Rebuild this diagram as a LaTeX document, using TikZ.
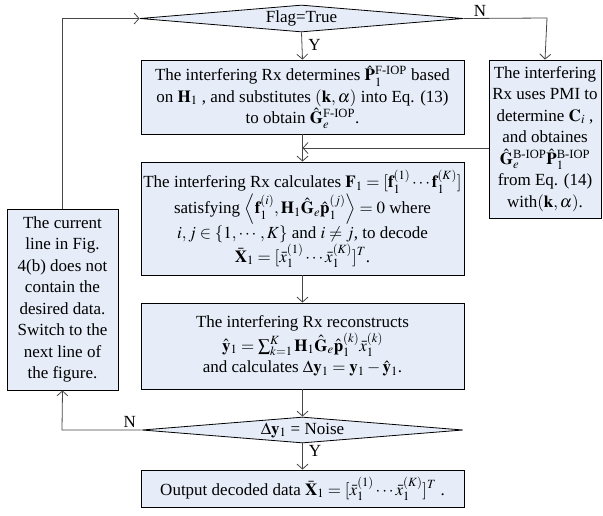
\documentclass[tikz,border=0pt]{standalone}
\usepackage{amsmath}
\usepackage{mathptmx}
\usepackage{fontspec}
\setmainfont{Liberation Serif}
\usepackage{xcolor}
\usetikzlibrary{positioning}
\usetikzlibrary{shapes.geometric}
\usetikzlibrary{arrows.meta}
\definecolor{boxblue}{RGB}{230,237,248}
\definecolor{linegray}{RGB}{70,70,70}
\newcommand\colx{302.5}
\newcommand\boxw{323}
\newcommand\leftx{62}
\newcommand\rightx{547}
\tikzset{
    flowbox/.style = {draw = black, fill = boxblue, line width = 0.8pt, align = center,
        inner sep = 1pt, font = \fontsize{17}{21.5}\selectfont},
    decide/.style = {diamond, draw = black, fill = boxblue, line width = 0.8pt, aspect = 12,
        inner sep = 0pt, font = \fontsize{17}{21}\selectfont},
    flowline/.style = {draw = linegray, line width = 0.8pt, -{Straight Barb[length=5pt,width=11pt]}},
    branch/.style = {font = \fontsize{17}{21}\selectfont, inner sep = 2pt},
}

\begin{document}
\begin{tikzpicture}[x=1pt,y=-1pt]
         \useasboundingbox (0,0) rectangle (603,515);
         % --- Decisions
         \node [decide, minimum width=\boxw pt, minimum height=27pt] (flag) at (301.5,18.5) {Flag=True};
         \node [decide, minimum width=321pt, minimum height=26pt] (noise) at (\colx,430) {$\Delta\mathbf{y}_1$ = Noise};
         % --- Main column
         \node [flowbox, minimum width=\boxw pt, minimum height=74pt] (fiop) at (\colx,97)
               {The interfering Rx determines $\hat{\mathbf{P}}_1^{\text{F-IOP}}$ based\\
                on $\mathbf{H}_1$ , and substitutes $(\mathbf{k},\alpha)$ into Eq. (13)\\
                to obtain $\hat{\mathbf{G}}_e^{\text{F-IOP}}$.};
         \node [flowbox, minimum width=\boxw pt, minimum height=113pt] (calcF) at (\colx,218.5)
               {The interfering Rx calculates $\mathbf{F}_1=[\mathbf{f}_1^{(1)}\cdots\mathbf{f}_1^{(K)}]$\\
                satisfying $\left\langle \mathbf{f}_1^{(i)},\mathbf{H}_1\hat{\mathbf{G}}_e\hat{\mathbf{p}}_1^{(j)}\right\rangle=0$ where\\
                $i,j\in\{1,\cdots,K\}$ and $i\neq j$, to decode\\
                $\bar{\mathbf{X}}_1=[\bar{x}_1^{(1)}\cdots\bar{x}_1^{(K)}]^T$.};
         \node [flowbox, minimum width=\boxw pt, minimum height=86pt] (recon) at (\colx,346)
               {The interfering Rx reconstructs\\
                $\hat{\mathbf{y}}_1=\sum_{k=1}^{K}\mathbf{H}_1\hat{\mathbf{G}}_e\hat{\mathbf{p}}_1^{(k)}\bar{x}_1^{(k)}$\\
                and calculates $\Delta\mathbf{y}_1=\mathbf{y}_1-\hat{\mathbf{y}}_1$.};
         \node [flowbox, minimum width=\boxw pt, minimum height=37pt] (output) at (\colx,488.5)
               {Output decoded data $\bar{\mathbf{X}}_1=[\bar{x}_1^{(1)}\cdots\bar{x}_1^{(K)}]^T$ .};
         % --- Side boxes
         \node [flowbox, minimum width=112pt, minimum height=158pt] (biop) at (545,139)
               {The interfering\\ Rx uses PMI to\\ determine $\mathbf{C}_i$ ,\\ and obtaines\\
                $\hat{\mathbf{G}}_e^{\text{B-IOP}}\hat{\mathbf{P}}_1^{\text{B-IOP}}$\\ from Eq. (14)\\ with$(\mathbf{k},\alpha)$.};
         \node [flowbox, minimum width=111pt, minimum height=181pt] (nextline) at (62.5,299.5)
               {The current\\ line in Fig.\\ 4(b) does not\\ contain the\\ desired data.\\
                Switch to the\\ next line of\\ the figure.};
         % --- Joins
         \coordinate (merge) at (\colx,148);
         \coordinate (topright) at (\rightx,18);
         \coordinate (botleft) at (\leftx,430);
         % --- Connectors
         \draw [flowline] (flag.south) -- node [branch, right, pos=0.45, xshift=4pt] (yes1) {Y} (fiop.north);
         \draw [flowline] (flag.east) -- node [branch, above, pos=0.2] (no1) {N} (topright) -- (biop.north);
         \draw [flowline] (fiop.south) -- (calcF.north);
         \draw [flowline] (biop.west |- merge) -- (merge);
         \draw [flowline] (calcF.south) -- (recon.north);
         \draw [flowline] (recon.south) -- (noise.north);
         \draw [flowline] (noise.south) -- node [branch, right, pos=0.3, xshift=4pt] (yes2) {Y} (output.north);
         \draw [flowline] (noise.west) -- node [branch, above, pos=0.15] (no2) {N} (botleft) -- (nextline.south);
         \draw [flowline] (nextline.north) |- (flag.west);
       \end{tikzpicture}
\end{document}
